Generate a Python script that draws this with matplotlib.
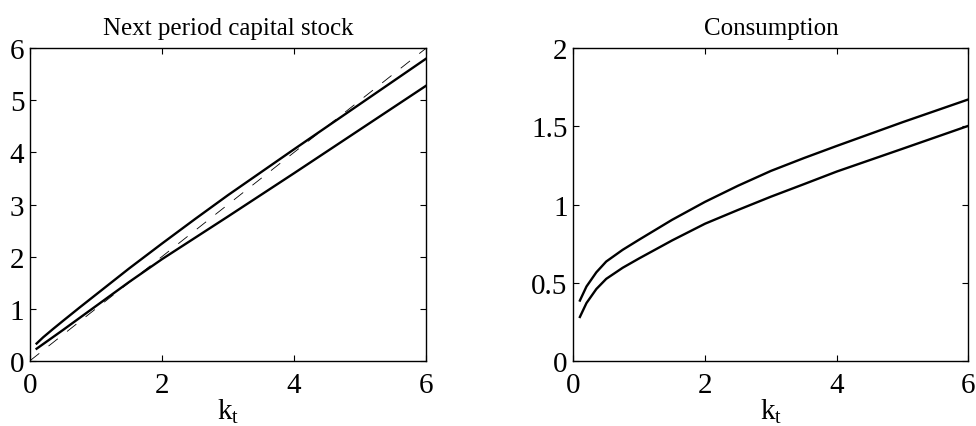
import matplotlib
matplotlib.use("Agg")
import matplotlib.pyplot as plt

# capital grid and values
k = [0.1, 0.2, 0.35, 0.5, 0.75, 1.0, 1.5, 2.0, 2.5, 3.0, 3.5, 4.0, 5.0, 6.0]
k_next_hi = [0.33, 0.45, 0.61, 0.765, 1.02, 1.27, 1.77, 2.25, 2.72, 3.18, 3.62, 4.06, 4.93, 5.80]
k_next_lo = [0.23, 0.32, 0.455, 0.59, 0.82, 1.05, 1.51, 1.95, 2.36, 2.77, 3.185, 3.60, 4.44, 5.28]
c_hi = [0.385, 0.475, 0.566, 0.635, 0.71, 0.775, 0.902, 1.017, 1.12, 1.215, 1.297, 1.375, 1.527, 1.673]
c_lo = [0.28, 0.369, 0.459, 0.524, 0.595, 0.655, 0.77, 0.877, 0.965, 1.05, 1.13, 1.211, 1.357, 1.504]
diag = [0.0, 6.0]

xticks = [0, 2, 4, 6]
yticks_left = [0, 1, 2, 3, 4, 5, 6]
yticks_right = [0, 0.5, 1, 1.5, 2]
ytick_labels_right = ["0", "0.5", "1", "1.5", "2"]

plt.rcParams["font.family"] = ["Liberation Serif", "DejaVu Serif"]
plt.rcParams["mathtext.fontset"] = "custom"
plt.rcParams["mathtext.rm"] = "Liberation Serif"
plt.rcParams["mathtext.it"] = "Liberation Serif:italic"
plt.rcParams["lines.scale_dashes"] = False

fig = plt.figure(figsize=(9.76, 4.27), dpi=100)
ax1 = fig.add_axes([30 / 976, 65.3 / 427, 396 / 976, 312.4 / 427])
ax2 = fig.add_axes([573.3 / 976, 65.3 / 427, 395.2 / 976, 312.4 / 427])

ax1.plot(k, k_next_hi, color="black", lw=1.7)
ax1.plot(k, k_next_lo, color="black", lw=1.7)
ax1.plot(diag, diag, color="black", lw=0.6, dashes=(8.5, 8.5))
ax1.set_ylim(0, 6)
ax1.set_yticks(yticks_left)
ax1.set_title("Next period capital stock", fontsize=18, pad=10)

ax2.plot(k, c_hi, color="black", lw=1.7)
ax2.plot(k, c_lo, color="black", lw=1.7)
ax2.set_ylim(0, 2)
ax2.set_yticks(yticks_right)
ax2.set_yticklabels(ytick_labels_right)
ax2.set_title("Consumption", fontsize=18, pad=10)

for ax in (ax1, ax2):
    ax.set_xlim(0, 6)
    ax.set_xticks(xticks)
    ax.set_xlabel(r"$\mathrm{k}_\mathrm{t}$", fontsize=21, labelpad=-1)
    ax.tick_params(direction="in", top=True, right=True, length=4,
                   width=0.8, labelsize=21)
    ax.tick_params(axis="x", pad=8)
    ax.tick_params(axis="y", pad=4)
    for s in ax.spines.values():
        s.set_linewidth(1.0)

fig.savefig("out.png", dpi=100)
